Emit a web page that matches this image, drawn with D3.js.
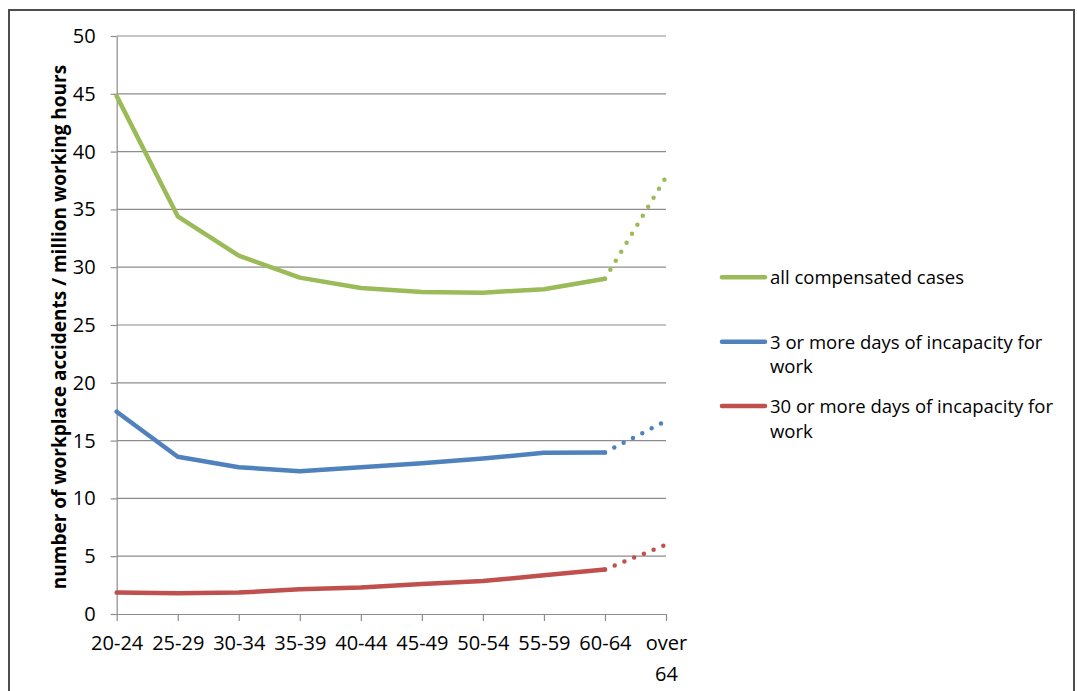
<!DOCTYPE html>
<html>
<head>
<meta charset="utf-8">
<script src="https://cdn.jsdelivr.net/npm/d3@7"></script>
<style>
  html, body { margin: 0; padding: 0; background: #fff; }
  svg { display: block; font-family: "Open Sans", sans-serif; }
</style>
</head>
<body>
<svg id="chart" width="1077" height="691"></svg>
<script>
const categories = ["20-24","25-29","30-34","35-39","40-44","45-49","50-54","55-59","60-64","over 64"];
const allCases   = [44.8, 34.4, 31.0, 29.1, 28.2, 27.85, 27.8, 28.1, 29.0, 37.8];
const days3      = [17.5, 13.6, 12.7, 12.35, 12.7, 13.05, 13.45, 13.95, 13.98, 16.7];
const days30     = [1.85, 1.8, 1.85, 2.15, 2.3, 2.6, 2.85, 3.35, 3.85, 6.0];
const seriesNames = ["all compensated cases", "3 or more days of incapacity for work", "30 or more days of incapacity for work"];
const seriesColors = ["#9BBB59", "#4F81BD", "#C0504D"];
const yTicks = [0, 5, 10, 15, 20, 25, 30, 35, 40, 45, 50];
const yTitle = "number of workplace accidents / million working hours";

const svg = d3.select("#chart");
const pLeft = 116.7, pRight = 666, pTop = 36, pBottom = 614;
const x = d3.scalePoint().domain(categories).range([pLeft, pRight]);
const y = d3.scaleLinear().domain([0, 50]).range([pBottom, pTop]);

// outer frame
svg.append("rect").attr("x", 9).attr("y", 10).attr("width", 1065).attr("height", 700)
  .attr("fill", "none").attr("stroke", "#4d4d4d").attr("stroke-width", 2);

// gridlines
svg.append("g").selectAll("line").data(yTicks.filter(d => d > 0)).join("line")
  .attr("x1", pLeft).attr("x2", pRight)
  .attr("y1", d => y(d)).attr("y2", d => y(d))
  .attr("stroke", "#8c8c8c").attr("stroke-width", 1.2);

// y axis
const yAxis = svg.append("g").attr("transform", `translate(${pLeft},0)`)
  .call(d3.axisLeft(y).tickValues(yTicks).tickSize(6).tickPadding(15).tickSizeOuter(0));
yAxis.select(".domain").attr("stroke", "#8c8c8c").attr("stroke-width", 1.2);
yAxis.selectAll(".tick line").attr("stroke", "#8c8c8c").attr("stroke-width", 1.2);
yAxis.selectAll(".tick text").attr("font-size", 20).attr("fill", "#000")
  .attr("font-family", "Open Sans");

// x axis
const xAxis = svg.append("g").attr("transform", `translate(0,${pBottom})`)
  .call(d3.axisBottom(x).tickSize(7).tickSizeOuter(0));
xAxis.select(".domain").attr("stroke", "#8c8c8c").attr("stroke-width", 1.2);
xAxis.selectAll(".tick line").attr("stroke", "#8c8c8c").attr("stroke-width", 1.2);
xAxis.selectAll(".tick text").remove();
xAxis.selectAll(".tick").each(function(d) {
  const t = d3.select(this).append("text")
    .attr("fill", "#000").attr("font-size", 20).attr("font-family", "Open Sans")
    .attr("text-anchor", "middle");
  const parts = d === "over 64" ? ["over", "64"] : [d];
  parts.forEach((p, i) => {
    t.append("tspan").attr("x", 0).attr("y", 36 + i * 31).text(p);
  });
});

// y title
svg.append("text")
  .attr("transform", `translate(66,${(pTop + pBottom) / 2 + 2}) rotate(-90)`)
  .attr("text-anchor", "middle").attr("font-weight", "bold")
  .attr("font-size", 19).attr("fill", "#000")
  .text(yTitle);

// series
const allSeries = [allCases, days3, days30];
const line = d3.line().x(d => x(d.c)).y(d => y(d.v));
allSeries.forEach((vals, i) => {
  const pts = vals.map((v, j) => ({ c: categories[j], v }));
  svg.append("path").datum(pts.slice(0, 9)).attr("d", line)
    .attr("fill", "none").attr("stroke", seriesColors[i]).attr("stroke-width", 4.5)
    .attr("stroke-linejoin", "round").attr("stroke-linecap", "round");
  svg.append("path").datum(pts.slice(8)).attr("d", line)
    .attr("fill", "none").attr("stroke", seriesColors[i]).attr("stroke-width", 4.5)
    .attr("stroke-linecap", "round").attr("stroke-dasharray", "0,10.5");
});

// legend
const legendY = [277.3, 341.7, 406];
const legendLines = [["all compensated cases"], ["3 or more days of incapacity for", "work"], ["30 or more days of incapacity for", "work"]];
const lg = svg.append("g");
seriesNames.forEach((name, i) => {
  lg.append("line").attr("x1", 722).attr("x2", 765).attr("y1", legendY[i]).attr("y2", legendY[i])
    .attr("stroke", seriesColors[i]).attr("stroke-width", 4.5).attr("stroke-linecap", "round");
  const t = lg.append("text").attr("font-size", 18.5).attr("fill", "#000");
  legendLines[i].forEach((l, k) => {
    t.append("tspan").attr("x", 770).attr("y", legendY[i] + 7 + k * 24.5).text(l);
  });
});
</script>
</body>
</html>
